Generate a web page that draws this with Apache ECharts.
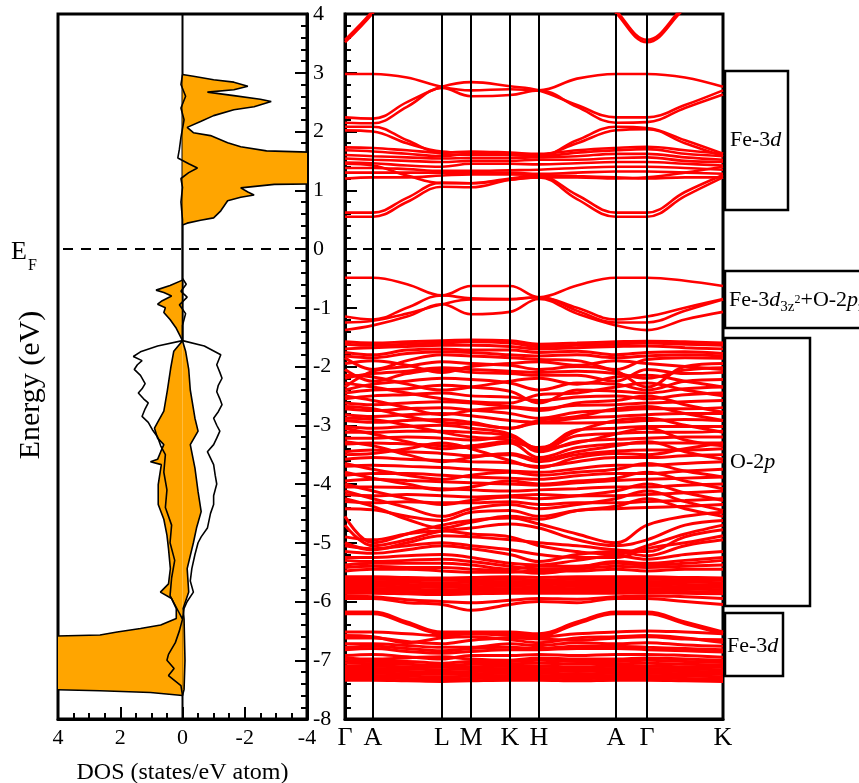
<!DOCTYPE html>
<html>
<head>
<meta charset="utf-8">
<script src="https://cdn.jsdelivr.net/npm/echarts@6/dist/echarts.min.js"></script>
<style>
    html, body { margin: 0; padding: 0; background: #fff; }
    #chart { width: 859px; height: 783px; }
</style>
</head>
<body>
<div id="chart"></div>
<script>
// high-symmetry path (distances along k-path)
const kLabels = ['Γ', 'A', 'L', 'M', 'K', 'H', 'A', 'Γ', 'K'];
const kTicks = [0, 28, 97, 126, 165, 194, 271, 302, 378];
const kGrid = [0, 28, 62, 97, 126, 165, 194, 232, 271, 302, 340, 378];

// conduction bands (eV) sampled at kGrid
const condBands = [
    [3.52, 4.02, 4.8, 5, 5, 5, 5, 4.8, 4.02, 3.52, 4.1, 4.6],
    [3.56, 4.06, 4.8, 5, 5, 5, 5, 4.8, 4.06, 3.56, 4.14, 4.6],
    [2.98, 2.98, 2.92, 2.76, 2.70, 2.72, 2.70, 2.90, 2.98, 2.98, 2.92, 2.76],
    [2.24, 2.22, 2.50, 2.76, 2.84, 2.77, 2.70, 2.45, 2.24, 2.24, 2.45, 2.70],
    [2.15, 2.14, 2.42, 2.74, 2.60, 2.62, 2.70, 2.42, 2.15, 2.16, 2.40, 2.63],
    [2.08, 2.08, 1.85, 1.62, 1.60, 1.60, 1.58, 1.85, 2.08, 2.06, 1.85, 1.62],
    [2.02, 2.00, 1.80, 1.66, 1.64, 1.62, 1.60, 1.80, 2.02, 2.04, 1.80, 1.58],
    [1.73, 1.72, 1.68, 1.64, 1.66, 1.64, 1.62, 1.68, 1.72, 1.74, 1.68, 1.62],
    [1.68, 1.66, 1.62, 1.58, 1.62, 1.60, 1.58, 1.64, 1.68, 1.70, 1.62, 1.58],
    [1.60, 1.58, 1.56, 1.54, 1.55, 1.55, 1.56, 1.58, 1.62, 1.62, 1.56, 1.52],
    [1.54, 1.52, 1.50, 1.48, 1.50, 1.50, 1.52, 1.52, 1.55, 1.56, 1.50, 1.48],
    [1.47, 1.46, 1.42, 1.40, 1.45, 1.45, 1.44, 1.46, 1.48, 1.48, 1.45, 1.42],
    [1.38, 1.38, 1.36, 1.33, 1.33, 1.34, 1.35, 1.38, 1.40, 1.40, 1.38, 1.35],
    [1.30, 1.30, 1.30, 1.30, 1.30, 1.30, 1.28, 1.30, 1.32, 1.32, 1.30, 1.28],
    [1.20, 1.22, 1.22, 1.25, 1.27, 1.27, 1.26, 1.24, 1.22, 1.20, 1.22, 1.22],
    [1.45, 1.42, 1.25, 1.12, 1.12, 1.18, 1.22, 1.22, 1.20, 1.22, 1.30, 1.40],
    [0.55, 0.55, 0.80, 1.06, 1.05, 1.18, 1.22, 0.85, 0.55, 0.55, 0.90, 1.22],
    [0.62, 0.62, 0.87, 1.13, 1.12, 1.20, 1.24, 0.92, 0.62, 0.62, 0.97, 1.26]
];

// upper valence bands (Fe-3d3z2 + O-2pz)
const topValBands = [
    [-0.49, -0.49, -0.60, -0.79, -0.63, -0.63, -0.82, -0.62, -0.49, -0.49, -0.54, -0.63],
    [-1.15, -1.20, -1.00, -0.79, -0.84, -0.85, -0.82, -1.00, -1.20, -1.15, -1.00, -0.85],
    [-1.25, -1.22, -1.10, -0.94, -0.86, -0.86, -0.82, -1.05, -1.25, -1.25, -1.05, -0.86],
    [-1.38, -1.30, -1.15, -0.94, -1.11, -1.07, -0.85, -1.10, -1.30, -1.38, -1.20, -1.07]
];

// O-2p valence manifold
const o2pBands = [
    [-1.58, -1.60, -1.58, -1.56, -1.55, -1.56, -1.62, -1.60, -1.58, -1.57, -1.58, -1.60],
    [-1.62, -1.64, -1.62, -1.60, -1.58, -1.60, -1.66, -1.64, -1.62, -1.60, -1.62, -1.64],
    [-1.70, -1.68, -1.66, -1.64, -1.64, -1.66, -1.70, -1.68, -1.66, -1.65, -1.68, -1.70],
    [-1.76, -1.80, -1.72, -1.70, -1.72, -1.72, -1.76, -1.74, -1.80, -1.76, -1.75, -1.78],
    [-1.82, -1.85, -1.78, -1.75, -1.76, -1.80, -1.82, -1.80, -1.85, -1.82, -1.80, -1.82],
    [-1.85, -2.05, -1.90, -1.80, -1.82, -1.85, -1.88, -1.90, -2.05, -1.88, -1.85, -1.86],
    [-1.95, -1.90, -1.98, -2.10, -2.00, -1.95, -1.92, -1.98, -1.90, -1.95, -2.00, -2.05],
    [-2.35, -2.08, -2.00, -1.92, -1.95, -1.98, -2.05, -2.00, -2.08, -2.35, -2.00, -1.95],
    [-2.20, -2.12, -2.08, -2.02, -2.05, -2.08, -2.10, -2.08, -2.12, -2.20, -2.06, -2.02],
    [-2.05, -2.25, -2.12, -2.05, -2.10, -2.12, -2.15, -2.15, -2.25, -2.05, -2.12, -2.10],
    [-2.15, -2.18, -2.30, -2.40, -2.35, -2.25, -2.20, -2.30, -2.18, -2.15, -2.25, -2.35],
    [-2.40, -2.30, -2.25, -2.20, -2.22, -2.28, -2.40, -2.28, -2.30, -2.40, -2.25, -2.22],
    [-2.28, -2.35, -2.45, -2.55, -2.60, -2.62, -2.48, -2.45, -2.35, -2.28, -2.40, -2.50],
    [-2.45, -2.40, -2.38, -2.32, -2.35, -2.42, -2.62, -2.40, -2.42, -2.45, -2.38, -2.35],
    [-2.55, -2.50, -2.48, -2.45, -2.50, -2.52, -2.58, -2.52, -2.50, -2.55, -2.48, -2.45],
    [-2.50, -2.58, -2.70, -2.82, -2.75, -2.70, -2.75, -2.62, -2.58, -2.50, -2.65, -2.78],
    [-2.62, -2.65, -2.62, -2.60, -2.62, -2.68, -2.72, -2.66, -2.65, -2.62, -2.60, -2.58],
    [-2.68, -2.72, -2.85, -2.95, -2.98, -3.05, -2.92, -2.85, -2.72, -2.68, -2.80, -2.92],
    [-2.72, -2.75, -2.72, -2.70, -2.74, -2.80, -2.88, -2.78, -2.75, -2.72, -2.72, -2.70],
    [-2.82, -2.85, -2.82, -2.80, -2.84, -2.92, -2.95, -2.88, -2.85, -2.82, -2.80, -2.80],
    [-2.88, -2.90, -3.00, -3.12, -3.20, -3.25, -3.38, -3.10, -2.92, -2.88, -3.00, -3.12],
    [-2.92, -2.95, -2.92, -2.90, -2.95, -3.05, -2.96, -2.96, -2.95, -2.92, -2.90, -2.92],
    [-3.02, -3.05, -3.02, -3.00, -3.05, -3.15, -3.40, -3.08, -3.05, -3.02, -3.02, -3.02],
    [-3.05, -3.15, -3.28, -3.40, -3.35, -3.28, -3.40, -3.30, -3.15, -3.05, -3.25, -3.35],
    [-3.12, -3.12, -3.10, -3.10, -3.12, -3.18, -3.42, -3.18, -3.14, -3.12, -3.12, -3.10],
    [-3.22, -3.22, -3.20, -3.22, -3.25, -3.20, -3.45, -3.28, -3.24, -3.22, -3.20, -3.20],
    [-3.28, -3.35, -3.50, -3.62, -3.55, -3.48, -3.58, -3.45, -3.35, -3.28, -3.45, -3.58],
    [-3.32, -3.30, -3.32, -3.35, -3.38, -3.30, -3.55, -3.38, -3.32, -3.30, -3.30, -3.30],
    [-3.45, -3.42, -3.45, -3.48, -3.52, -3.50, -3.62, -3.50, -3.44, -3.42, -3.42, -3.40],
    [-3.50, -3.48, -3.40, -3.30, -3.40, -3.60, -3.72, -3.55, -3.48, -3.50, -3.40, -3.30],
    [-3.58, -3.55, -3.58, -3.60, -3.62, -3.64, -3.70, -3.62, -3.55, -3.55, -3.52, -3.50],
    [-3.65, -3.75, -3.85, -3.92, -3.85, -3.80, -3.85, -3.80, -3.75, -3.65, -3.78, -3.88],
    [-3.70, -3.68, -3.70, -3.72, -3.75, -3.78, -3.80, -3.74, -3.68, -3.68, -3.65, -3.62],
    [-3.80, -3.90, -4.00, -4.10, -4.05, -3.95, -4.00, -3.95, -3.90, -3.80, -3.95, -4.08],
    [-3.85, -3.82, -3.82, -3.85, -3.88, -3.90, -3.92, -3.86, -3.82, -3.82, -3.78, -3.75],
    [-3.95, -3.92, -3.94, -3.96, -3.98, -4.00, -4.02, -3.98, -3.94, -3.92, -3.90, -3.88],
    [-4.00, -4.12, -4.25, -4.35, -4.28, -4.22, -4.25, -4.20, -4.12, -4.00, -4.15, -4.28],
    [-4.05, -4.05, -4.06, -4.08, -4.10, -4.12, -4.10, -4.08, -4.05, -4.05, -4.02, -4.00],
    [-4.12, -4.25, -4.40, -4.55, -4.42, -4.35, -4.42, -4.35, -4.25, -4.12, -4.30, -4.45],
    [-4.18, -4.20, -4.18, -4.20, -4.22, -4.20, -4.18, -4.20, -4.20, -4.18, -4.15, -4.12],
    [-4.25, -4.38, -4.60, -4.75, -4.65, -4.55, -4.60, -4.45, -4.38, -4.25, -4.42, -4.55],
    [-4.30, -4.32, -4.30, -4.32, -4.32, -4.30, -4.35, -4.32, -4.32, -4.30, -4.28, -4.25],
    [-4.42, -4.44, -4.55, -4.62, -4.48, -4.45, -4.55, -4.45, -4.42, -4.40, -4.38, -4.35],
    [-4.55, -5.00, -4.85, -4.70, -4.62, -4.58, -4.68, -4.85, -5.00, -4.70, -4.55, -4.48],
    [-4.70, -5.05, -4.95, -4.80, -4.75, -4.68, -4.75, -4.95, -5.05, -4.95, -4.70, -4.62],
    [-4.90, -4.95, -4.85, -4.80, -4.85, -4.90, -5.05, -5.15, -5.20, -5.05, -4.85, -4.70],
    [-5.00, -5.12, -5.00, -4.88, -4.90, -4.95, -5.00, -5.05, -5.12, -5.15, -4.90, -4.78],
    [-5.05, -5.10, -5.05, -5.00, -5.05, -5.12, -5.20, -5.25, -5.25, -5.10, -5.00, -4.88],
    [-5.15, -5.18, -5.12, -5.05, -5.10, -5.20, -5.32, -5.20, -5.15, -5.22, -5.05, -4.95],
    [-5.25, -5.25, -5.22, -5.20, -5.25, -5.35, -5.38, -5.30, -5.22, -5.28, -5.20, -5.15],
    [-5.30, -5.32, -5.30, -5.28, -5.32, -5.40, -5.45, -5.42, -5.32, -5.35, -5.30, -5.25],
    [-5.38, -5.35, -5.35, -5.35, -5.38, -5.45, -5.40, -5.40, -5.35, -5.38, -5.35, -5.30],
    [-5.42, -5.40, -5.42, -5.42, -5.45, -5.48, -5.52, -5.45, -5.40, -5.42, -5.40, -5.38],
    [-5.48, -5.45, -5.45, -5.48, -5.50, -5.50, -5.48, -5.48, -5.45, -5.48, -5.45, -5.45],
    [-5.58, -5.58, -5.59, -5.60, -5.59, -5.58, -5.59, -5.58, -5.58, -5.58, -5.59, -5.60],
    [-5.62, -5.62, -5.63, -5.64, -5.63, -5.62, -5.63, -5.62, -5.62, -5.62, -5.63, -5.64],
    [-5.66, -5.66, -5.67, -5.68, -5.67, -5.66, -5.67, -5.66, -5.66, -5.66, -5.67, -5.68],
    [-5.70, -5.70, -5.71, -5.72, -5.71, -5.70, -5.71, -5.70, -5.70, -5.70, -5.71, -5.72],
    [-5.74, -5.74, -5.75, -5.76, -5.75, -5.74, -5.75, -5.74, -5.74, -5.74, -5.75, -5.76],
    [-5.78, -5.78, -5.79, -5.80, -5.79, -5.78, -5.79, -5.78, -5.78, -5.78, -5.79, -5.80],
    [-5.82, -5.82, -5.83, -5.84, -5.83, -5.82, -5.83, -5.82, -5.82, -5.82, -5.83, -5.84],
    [-5.86, -5.86, -5.87, -5.88, -5.87, -5.86, -5.86, -5.86, -5.86, -5.85, -5.86, -5.87]
];

// lower Fe-3d bands
const lowBands = [
    [-5.90, -5.92, -5.97, -6.00, -6.02, -5.98, -5.95, -5.96, -5.92, -5.90, -5.92, -5.95],
    [-5.95, -5.95, -6.02, -6.05, -6.15, -6.05, -6.00, -6.02, -5.95, -5.95, -6.00, -6.05],
    [-6.18, -6.18, -6.35, -6.52, -6.52, -6.52, -6.55, -6.35, -6.18, -6.18, -6.35, -6.52],
    [-6.21, -6.21, -6.38, -6.55, -6.55, -6.55, -6.58, -6.38, -6.21, -6.21, -6.38, -6.55],
    [-6.52, -6.52, -6.55, -6.58, -6.55, -6.58, -6.60, -6.55, -6.52, -6.50, -6.52, -6.55],
    [-6.58, -6.60, -6.70, -6.62, -6.60, -6.65, -6.70, -6.62, -6.60, -6.58, -6.62, -6.70],
    [-6.62, -6.62, -6.68, -6.72, -6.66, -6.62, -6.64, -6.66, -6.62, -6.60, -6.64, -6.65],
    [-6.72, -6.72, -6.75, -6.78, -6.78, -6.72, -6.75, -6.70, -6.72, -6.70, -6.74, -6.76],
    [-6.78, -6.76, -6.80, -6.84, -6.80, -6.78, -6.80, -6.76, -6.76, -6.78, -6.80, -6.82],
    [-6.82, -6.80, -6.85, -6.88, -6.85, -6.82, -6.82, -6.80, -6.80, -6.82, -6.84, -6.86],
    [-6.92, -6.90, -6.94, -6.98, -6.92, -6.92, -6.90, -6.92, -6.90, -6.90, -6.92, -6.95],
    [-6.96, -6.98, -6.96, -6.94, -6.98, -7.00, -6.96, -6.98, -6.98, -6.96, -6.98, -7.00],
    [-7.00, -7.02, -7.02, -7.05, -7.02, -7.02, -7.00, -7.02, -7.02, -7.00, -7.02, -7.04],
    [-7.05, -7.06, -7.07, -7.08, -7.07, -7.06, -7.05, -7.06, -7.06, -7.05, -7.07, -7.08],
    [-7.10, -7.10, -7.11, -7.12, -7.11, -7.10, -7.10, -7.11, -7.10, -7.10, -7.11, -7.12],
    [-7.14, -7.14, -7.15, -7.16, -7.15, -7.14, -7.14, -7.15, -7.14, -7.14, -7.15, -7.16],
    [-7.18, -7.18, -7.19, -7.20, -7.19, -7.18, -7.18, -7.19, -7.18, -7.18, -7.19, -7.20],
    [-7.22, -7.22, -7.23, -7.24, -7.23, -7.22, -7.22, -7.23, -7.22, -7.22, -7.23, -7.24],
    [-7.26, -7.26, -7.27, -7.28, -7.27, -7.26, -7.26, -7.27, -7.26, -7.26, -7.27, -7.28],
    [-7.30, -7.30, -7.31, -7.32, -7.31, -7.30, -7.30, -7.31, -7.30, -7.30, -7.31, -7.32],
    [-7.34, -7.34, -7.35, -7.36, -7.35, -7.34, -7.34, -7.35, -7.34, -7.34, -7.35, -7.36]
];

// DOS: filled curve on the positive side (left)
const fillUpE = [-0.53, -0.62, -0.70, -0.74, -0.80, -0.88, -0.94, -1.00, -1.08, -1.20, -1.35, -1.56,
    -1.74, -2.03, -2.42, -2.76, -2.95, -3.05, -3.22, -3.33, -3.45, -3.58, -3.62, -3.67, -4.01, -4.35,
    -4.60, -4.87, -5.10, -5.44, -5.70, -5.84, -5.95, -6.12, -6.29, -6.40, -6.46, -6.52, -6.57, -6.60,
    -7.49, -7.52, -7.55, -7.60];
const fillUpDos = [0, 0.40, 0.85, 0.60, 0.35, 0.65, 0.80, 0.55, 0.60, 0.40, 0.20, 0,
    0.28, 0.38, 0.49, 0.60, 0.80, 0.90, 0.80, 0.60, 0.70, 0.80, 1.03, 0.68, 0.78, 0.78,
    0.60, 0.50, 0.45, 0.39, 0.45, 0.71, 0.35, 0.20, 0.20, 0.70, 1.35, 2.10, 2.65, 5,
    5, 2.65, 1.03, 0];

// DOS: filled curve on the negative side (right)
const fillDnE = [2.97, 2.94, 2.88, 2.84, 2.77, 2.71, 2.67, 2.61, 2.55, 2.51, 2.42, 2.37, 2.27, 2.17,
    2.07, 1.98, 1.93, 1.81, 1.74, 1.67, 1.635, 1.11, 1.10, 1.04, 0.97, 0.92, 0.88, 0.82, 0.65, 0.53,
    0.49, 0.44, 0.41, -1.56, -1.74, -2.05, -2.40, -2.88, -3.10, -3.33, -3.73, -4.13, -4.47, -4.75,
    -5.00, -5.44, -5.84, -6.12, -6.30, -7.00, -7.50, -7.60];
const fillDnDos = [0, -0.35, -1.00, -1.65, -2.10, -1.65, -0.80, -1.65, -2.50, -2.85, -2.30, -1.65, -1.00, -0.58,
    -0.15, -0.35, -0.90, -1.45, -1.87, -2.70, -5, -5, -2.95, -1.87, -2.10, -2.30, -1.87, -1.45, -1.23, -1.00,
    -0.58, -0.15, 0, 0, -0.10, -0.20, -0.25, -0.40, -0.50, -0.25, -0.40, -0.50, -0.60, -0.45,
    -0.35, -0.15, -0.20, -0.02, -0.05, -0.08, -0.05, 0];

// DOS: unfilled outline curves
const lineLeftE = [-1.56, -1.65, -1.75, -1.83, -1.90, -1.97, -2.05, -2.15, -2.29, -2.38, -2.45, -2.55,
    -2.62, -2.72, -2.85, -2.95, -3.09, -3.20, -3.35, -3.50, -3.80, -4.10, -4.40, -4.70, -5.00, -5.30,
    -5.60, -5.90, -6.00, -6.20, -6.30, -6.50, -6.70, -6.90, -7.00, -7.14, -7.26, -7.43, -7.60];
const lineLeftDos = [0, 0.80, 1.35, 1.58, 1.30, 1.45, 1.55, 1.35, 1.20, 1.30, 1.42, 1.25,
    1.10, 1.20, 1.30, 1.10, 0.95, 0.80, 0.70, 0.55, 0.60, 0.50, 0.55, 0.35, 0.40, 0.25,
    0.35, 0.40, 0.30, 0.10, 0, 0.10, 0.23, 0.45, 0.50, 0.27, 0.45, 0.05, 0];
const lineRightE = [-1.56, -1.65, -1.80, -1.97, -2.10, -2.20, -2.32, -2.43, -2.55, -2.65, -2.77, -2.88,
    -3.00, -3.10, -3.22, -3.33, -3.45, -3.56, -3.67, -3.85, -4.00, -4.20, -4.35, -4.50, -4.75, -4.90,
    -5.00, -5.20, -5.44, -5.65, -5.84, -6.00, -6.12, -6.30];
const lineRightDos = [0, -0.70, -1.23, -1.10, -1.20, -1.27, -1.15, -1.10, -1.20, -1.27, -1.15, -1.00,
    -1.10, -1.20, -1.10, -1.00, -0.80, -0.90, -1.00, -1.05, -1.10, -1.00, -1.00, -0.90, -0.80, -0.60,
    -0.50, -0.40, -0.30, -0.25, -0.35, -0.15, -0.05, 0];
const lineCondE = [2.97, 2.80, 2.60, 2.40, 2.20, 2.05, 1.90, 1.70, 1.55, 1.45, 1.38, 1.30, 1.20, 1.05, 0.80, 0.50, 0.41];
const lineCondDos = [0, 0.05, -0.10, 0.05, -0.05, 0, 0.05, 0.10, 0.15, -0.20, -0.48, -0.20, 0.05, 0, 0.05, 0, 0];
const lineMidE = [-0.50, -0.60, -0.72, -0.82, -0.95, -1.10, -1.30, -1.56];
const lineMidDos = [0, -0.12, 0.05, -0.15, 0.10, -0.10, 0, 0];
// zero-DOS reference line, visible outside the O-2p block
const zeroTopE = [4, -1.56];
const zeroBotE = [-6.25, -8];
const zeroDos = [0, 0];

const serif = 'Liberation Serif';
const chart = echarts.init(document.getElementById('chart'));

function pairs(E, D) {
    return E.map((e, i) => [D[i], e]);
}

function fillSeries(E, D) {
    const pts = pairs(E, D);
    return {
        type: 'custom',
        xAxisIndex: 0,
        yAxisIndex: 0,
        clip: true,
        silent: true,
        z: 3,
        data: [0],
        renderItem: function (params, api) {
            const poly = [api.coord([0, E[0]])];
            pts.forEach(p => poly.push(api.coord(p)));
            poly.push(api.coord([0, E[E.length - 1]]));
            return {
                type: 'polygon',
                shape: { points: poly },
                style: { fill: '#ffa500', stroke: null }
            };
        }
    };
}

function dosLine(E, D, width, z) {
    return {
        type: 'line',
        xAxisIndex: 0,
        yAxisIndex: 0,
        data: pairs(E, D),
        showSymbol: false,
        symbol: 'none',
        silent: true,
        z: z,
        lineStyle: { color: '#000', width: width }
    };
}

let series = [];

series.push(dosLine(zeroTopE, zeroDos, 2, 1));
series.push(dosLine(zeroBotE, zeroDos, 2, 1));
series.push(fillSeries(fillUpE, fillUpDos));
series.push(fillSeries(fillDnE, fillDnDos));
series.push(dosLine(fillUpE, fillUpDos, 1.6, 4));
series.push(dosLine(fillDnE, fillDnDos, 1.6, 4));
series.push(dosLine(lineLeftE, lineLeftDos, 1.6, 4));
series.push(dosLine(lineRightE, lineRightDos, 1.6, 4));
series.push(dosLine(lineCondE, lineCondDos, 1.6, 4));
series.push(dosLine(lineMidE, lineMidDos, 1.6, 4));
series.push({
    type: 'line', xAxisIndex: 0, yAxisIndex: 0, data: [], z: 6, silent: true,
    markLine: {
        silent: true, symbol: 'none', label: { show: false },
        data: [
            { yAxis: 0, lineStyle: { color: '#000', width: 2, type: [10, 8] } }
        ]
    }
});

// high-symmetry verticals in band panel
series.push({
    type: 'line', xAxisIndex: 1, yAxisIndex: 1, data: [], z: 6, silent: true,
    markLine: {
        silent: true, symbol: 'none', label: { show: false },
        lineStyle: { color: '#000', width: 2, type: 'solid' },
        data: kTicks.slice(1, -1).map(k => ({ xAxis: k }))
    }
});

function bandSeries(b, width) {
    return {
        type: 'line',
        xAxisIndex: 1,
        yAxisIndex: 1,
        data: kGrid.map((k, i) => [k, b[i]]),
        smooth: 0.4,
        showSymbol: false,
        symbol: 'none',
        silent: true,
        z: 3,
        lineStyle: { color: '#ff0000', width: width }
    };
}

condBands.concat(topValBands).forEach(b => series.push(bandSeries(b, 2.6)));
o2pBands.concat(lowBands).forEach(b => series.push(bandSeries(b, 3)));

series.push({
    type: 'line', xAxisIndex: 1, yAxisIndex: 1, data: [], z: 6, silent: true,
    markLine: {
        silent: true, symbol: 'none', label: { show: false },
        data: [
            { yAxis: 0, lineStyle: { color: '#000', width: 2, type: [10, 8] } }
        ]
    }
});

const tickLabel = { color: '#000', fontFamily: serif, fontSize: 22 };
const boxText = { fill: '#000', fontFamily: serif, fontSize: 22, textVerticalAlign: 'middle' };
const italic = { fontStyle: 'italic', fontFamily: serif, fontSize: 22 };

let option = {
    animation: false,
    backgroundColor: '#fff',
    grid: [
        { left: 58, top: 14, width: 249, height: 705, outerBoundsMode: 'none', containLabel: false, show: true, borderColor: '#000', borderWidth: 3, backgroundColor: 'transparent' },
        { left: 345, top: 14, width: 378, height: 705, outerBoundsMode: 'none', containLabel: false, show: true, borderColor: '#000', borderWidth: 3, backgroundColor: 'transparent' }
    ],
    xAxis: [
        {
            gridIndex: 0, type: 'value', min: -4, max: 4, interval: 2, inverse: true,
            axisLine: { onZero: false, lineStyle: { color: '#000', width: 3 } },
            axisTick: { inside: true, length: 12, lineStyle: { color: '#000', width: 2 } },
            minorTick: { show: true, splitNumber: 4, length: 6, lineStyle: { color: '#000', width: 2 } },
            splitLine: { show: false },
            axisLabel: Object.assign({ margin: 8 }, tickLabel),
            name: 'DOS (states/eV atom)',
            nameLocation: 'middle',
            nameGap: 42,
            nameTextStyle: { color: '#000', fontFamily: serif, fontSize: 24 }
        },
        {
            gridIndex: 1, type: 'value', min: 0, max: 378,
            axisLine: { onZero: false, lineStyle: { color: '#000', width: 3 } },
            axisTick: { show: false },
            splitLine: { show: false },
            axisLabel: {
                margin: 6,
                fontSize: 26,
                color: '#000',
                fontFamily: serif,
                customValues: kTicks,
                formatter: function (v) {
                    const i = kTicks.indexOf(v);
                    return i >= 0 ? kLabels[i] : '';
                }
            }
        }
    ],
    yAxis: [
        {
            gridIndex: 0, type: 'value', min: -8, max: 4, interval: 1, position: 'right',
            axisLine: { onZero: false, lineStyle: { color: '#000', width: 3 } },
            axisTick: { inside: true, length: 12, lineStyle: { color: '#000', width: 2 } },
            minorTick: { show: true, splitNumber: 5, length: 6, lineStyle: { color: '#000', width: 2 } },
            splitLine: { show: false },
            axisLabel: Object.assign({ margin: 6 }, tickLabel)
        },
        {
            gridIndex: 1, type: 'value', min: -8, max: 4, interval: 1, position: 'left',
            axisLine: { onZero: false, lineStyle: { color: '#000', width: 3 } },
            axisTick: { inside: true, length: 12, lineStyle: { color: '#000', width: 2 } },
            minorTick: { show: true, splitNumber: 5, length: 6, lineStyle: { color: '#000', width: 2 } },
            splitLine: { show: false },
            axisLabel: { show: false }
        }
    ],
    graphic: [
        {
            type: 'text', x: 31, y: 385, rotation: Math.PI / 2,
            style: { text: 'Energy (eV)', fill: '#000', fontFamily: serif, fontSize: 30, textAlign: 'center', textVerticalAlign: 'middle' }
        },
        { type: 'text', x: 11, y: 239, style: { text: 'E', fill: '#000', fontFamily: serif, fontSize: 26 } },
        { type: 'text', x: 28, y: 258, style: { text: 'F', fill: '#000', fontFamily: serif, fontSize: 16 } },
        { type: 'rect', shape: { x: 725, y: 71, width: 63, height: 139 }, style: { fill: 'none', stroke: '#000', lineWidth: 2.5 } },
        { type: 'rect', shape: { x: 725, y: 271, width: 200, height: 57 }, style: { fill: 'none', stroke: '#000', lineWidth: 2.5 } },
        { type: 'rect', shape: { x: 725, y: 338, width: 85, height: 268 }, style: { fill: 'none', stroke: '#000', lineWidth: 2.5 } },
        { type: 'rect', shape: { x: 725, y: 613, width: 58, height: 63 }, style: { fill: 'none', stroke: '#000', lineWidth: 2.5 } },
        {
            type: 'text', x: 730, y: 140,
            style: Object.assign({ text: 'Fe-3{i|d}', rich: { i: italic } }, boxText)
        },
        {
            type: 'text', x: 729, y: 300,
            style: Object.assign({
                text: 'Fe-3{i|d}{sub|3z}{sup|2}+O-2{i|p}{sub|z}',
                rich: {
                    i: Object.assign({ lineHeight: 30 }, italic),
                    sub: { fontFamily: serif, fontSize: 15, verticalAlign: 'bottom', lineHeight: 14 },
                    sup: { fontFamily: serif, fontSize: 12, verticalAlign: 'middle', lineHeight: 12 }
                }
            }, boxText)
        },
        {
            type: 'text', x: 730, y: 462,
            style: Object.assign({ text: 'O-2{i|p}', rich: { i: italic } }, boxText)
        },
        {
            type: 'text', x: 727, y: 646,
            style: Object.assign({ text: 'Fe-3{i|d}', rich: { i: italic } }, boxText)
        }
    ],
    series: series
};

chart.setOption(option);
</script>
</body>
</html>
